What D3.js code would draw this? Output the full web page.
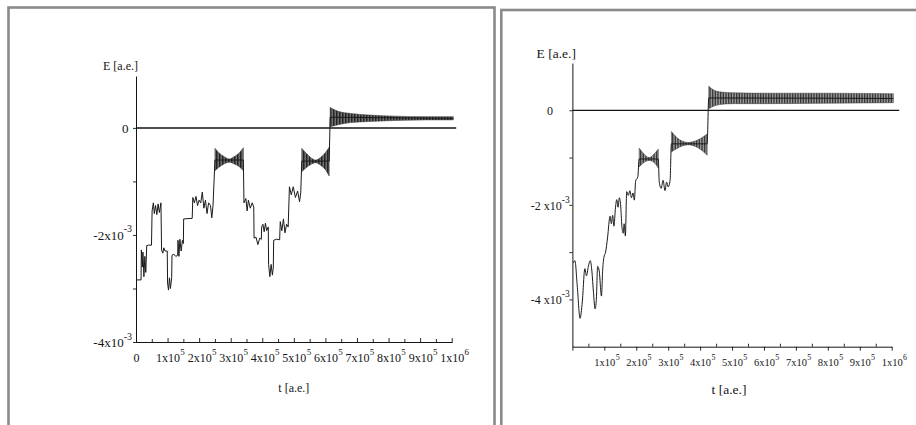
<!DOCTYPE html>
<html><head><meta charset="utf-8">
<script src="https://cdn.jsdelivr.net/npm/d3@7"></script>
<style>
body{margin:0;background:#fff;}
svg{display:block;}
text{font-family:"Liberation Serif","Times New Roman",serif;fill:#151515;}
</style>
</head><body>
<svg id="c" width="916" height="425"></svg>
<script>
// Units: t in 1e5 a.e., E in 1e-3 a.e.
const leftTrace = [[0,-2.84],[0.16,-2.84],[0.17,-2.28],[0.20,-2.60],[0.22,-2.32],[0.25,-2.78],[0.28,-2.40],[0.31,-2.70],[0.34,-2.20],[0.40,-2.19],[0.49,-2.19],
[0.51,-1.55],[0.55,-1.40],[0.58,-1.60],[0.62,-1.45],[0.66,-1.62],[0.70,-1.42],[0.74,-1.58],[0.79,-1.40],
[0.81,-2.28],[0.85,-2.34],[0.88,-2.24],[0.92,-2.30],[0.99,-2.30],[1.00,-2.90],[1.03,-3.03],[1.06,-2.80],[1.09,-3.00],[1.13,-2.80],
[1.14,-2.38],[1.20,-2.36],[1.26,-2.40],[1.32,-2.38],[1.33,-2.10],[1.36,-2.40],[1.39,-2.08],[1.43,-2.30],[1.47,-2.10],[1.50,-2.16],
[1.51,-1.70],[1.78,-1.69],[1.80,-1.30],[1.85,-1.40],[1.90,-1.28],[1.95,-1.45],[2.00,-1.35],[2.05,-1.40],[2.10,-1.20],[2.15,-1.50],[2.20,-1.35],[2.25,-1.60],[2.30,-1.40],[2.36,-1.45],[2.40,-1.68],[2.44,-1.45],
[2.50,-0.60],[3.40,-0.60],
[3.42,-1.40],[3.48,-1.32],[3.52,-1.55],[3.56,-1.35],[3.62,-1.50],[3.68,-1.40],[3.73,-1.48],
[3.74,-2.06],[3.80,-2.04],[3.86,-2.18],[3.92,-2.06],[3.97,-2.08],[3.98,-1.85],[4.02,-1.80],[4.06,-1.94],[4.10,-1.78],[4.14,-1.92],[4.19,-1.85],
[4.20,-2.55],[4.24,-2.78],[4.28,-2.55],[4.32,-2.75],[4.35,-2.60],[4.36,-2.10],[4.45,-2.08],[4.55,-2.09],
[4.57,-1.75],[4.62,-1.92],[4.67,-1.70],[4.72,-1.96],[4.77,-1.80],[4.82,-1.85],
[4.86,-1.10],[4.92,-1.25],[4.98,-1.10],[5.05,-1.30],[5.12,-1.18],[5.18,-1.38],[5.22,-1.20],
[5.25,-0.62],[6.12,-0.62],[6.15,0.20],[10.05,0.18]];

const leftBand1T  = [2.50, 2.62, 2.80, 2.95, 3.10, 3.28, 3.40];
const leftBand1Hi = [-0.38,-0.46,-0.54,-0.58,-0.54,-0.46,-0.37];
const leftBand1Lo = [-0.80,-0.74,-0.67,-0.64,-0.67,-0.73,-0.80];
const leftBand2T  = [5.25, 5.40, 5.55, 5.70, 5.85, 6.00, 6.12];
const leftBand2Hi = [-0.38,-0.48,-0.56,-0.60,-0.55,-0.46,-0.36];
const leftBand2Lo = [-0.82,-0.74,-0.68,-0.65,-0.70,-0.78,-0.90];
const leftBand3T  = [6.15, 6.40, 6.80, 7.40, 8.20, 9.20, 10.05];
const leftBand3Hi = [0.38, 0.31, 0.27, 0.24, 0.22, 0.21, 0.21];
const leftBand3Lo = [0.02, 0.06, 0.10, 0.12, 0.14, 0.15, 0.15];

const rightTrace = [[0.03,-3.23],[0.08,-3.18],[0.15,-3.70],[0.24,-4.40],[0.31,-4.05],[0.39,-3.35],[0.44,-3.50],[0.50,-3.30],[0.56,-3.18],[0.61,-3.40],[0.66,-3.85],[0.71,-4.20],[0.75,-4.00],[0.79,-3.30],[0.84,-3.40],[0.91,-3.93],[0.95,-3.35],[0.99,-3.10],[1.04,-3.00],[1.10,-2.70],
[1.18,-2.24],[1.22,-2.40],[1.26,-2.22],[1.30,-2.45],[1.35,-2.05],[1.39,-1.89],[1.43,-2.05],[1.47,-1.85],[1.51,-2.00],[1.55,-2.45],[1.59,-2.60],[1.62,-2.40],[1.66,-2.66],
[1.70,-1.72],[1.75,-1.80],[1.80,-1.70],[1.85,-1.85],[1.90,-1.75],[1.94,-1.90],[1.98,-1.50],[2.05,-1.40],
[2.09,-1.03],[2.69,-1.03],[2.72,-1.52],[2.78,-1.65],[2.84,-1.48],[2.90,-1.70],[2.95,-1.52],[3.00,-1.62],[3.06,-1.48],
[3.10,-0.71],[4.22,-0.71],[4.27,0.26],[10.05,0.25]];

const rightBand1T  = [2.09, 2.25, 2.40, 2.55, 2.69];
const rightBand1Hi = [-0.80,-0.93,-1.00,-0.93,-0.82];
const rightBand1Lo = [-1.20,-1.10,-1.06,-1.10,-1.22];
const rightBand2T  = [3.10, 3.35, 3.63, 3.95, 4.22];
const rightBand2Hi = [-0.45,-0.62,-0.68,-0.62,-0.50];
const rightBand2Lo = [-0.88,-0.78,-0.73,-0.80,-0.95];
const rightBand3T  = [4.27, 4.40, 4.60, 5.00, 6.00, 8.00, 10.05];
const rightBand3Hi = [0.51, 0.44, 0.39, 0.37, 0.36, 0.36, 0.35];
const rightBand3Lo = [0.03, 0.08, 0.12, 0.14, 0.14, 0.15, 0.16];

const xTickValues = d3.range(0, 10.01, 0.5);
const leftXLabelVals  = [0,1,2,3,4,5,6,7,8,9,10];
const leftXLabelBase  = ["0","1x10","2x10","3x10","4x10","5x10","6x10","7x10","8x10","9x10","1x10"];
const leftXLabelSup   = ["","5","5","5","5","5","5","5","5","5","6"];
const rightXLabelVals = [1,2,3,4,5,6,7,8,9,10];
const rightXLabelBase = ["1x10","2x10","3x10","4x10","5x10","6x10","7x10","8x10","9x10","1x10"];
const rightXLabelSup  = ["5","5","5","5","5","5","5","5","5","6"];
const leftYTicks  = [0,-1,-2,-3,-4];
const rightYTicks = [0,-1,-2,-3,-4];
const leftYLabelVals  = [0,-2,-4];
const leftYLabelBase  = ["0","-2x10","-4x10"];
const leftYLabelSup   = ["","-3","-3"];
const rightYLabelVals = [0,-2,-4];
const rightYLabelBase = ["0","-2 x10","-4 x10"];
const rightYLabelSup  = ["","-3","-3"];
const yTitle = "E [a.e.]";
const xTitle = "t [a.e.]";

const svg = d3.select("#c");
const defs = svg.append("defs");
function hatch(id, w, color, lw, bg){
  const p = defs.append("pattern").attr("id", id).attr("patternUnits","userSpaceOnUse")
    .attr("width", w).attr("height", 8);
  p.append("rect").attr("width", w).attr("height", 8).attr("fill", bg);
  p.append("rect").attr("x",0).attr("y",0).attr("width", lw).attr("height", 8).attr("fill", color);
}
hatch("hL", 1.5, "#111", 0.8, "#8c8c8c");
hatch("hR", 1.6, "#2a2a2a", 0.8, "#a8a8a8");

function panel(o){
  const x = d3.scaleLinear().domain([0,10]).range(o.xRange);
  const y = d3.scaleLinear().domain(o.yDomain).range(o.yRange);
  const g = svg.append("g");
  g.append("rect").attr("x", o.frame[0]).attr("y", o.frame[1]).attr("width", o.frame[2]).attr("height", o.frame[3])
    .attr("fill","none").attr("stroke","#8a8a8a").attr("stroke-width",2.6);

  // zero line
  g.append("line").attr("x1", x(0)).attr("x2", x.range()[1] + o.zeroExt)
    .attr("y1", y(0)).attr("y2", y(0)).attr("stroke","#151515").attr("stroke-width", o.zeroW);

  // x axis
  const gx = g.append("g").attr("transform", `translate(0,${y(o.yDomain[0])})`)
    .call(d3.axisBottom(x).tickValues(xTickValues).tickSizeOuter(0).tickFormat(""));
  gx.select(".domain").attr("stroke","#151515").attr("stroke-width",1);
  gx.selectAll(".tick line").attr("stroke","#151515").attr("stroke-width",0.9)
    .attr("y1", d => Number.isInteger(d) ? o.xMajT[0] : o.xMinT[0])
    .attr("y2", d => Number.isInteger(d) ? o.xMajT[1] : o.xMinT[1]);
  gx.selectAll(".tick").each(function(d){
    const i = o.xVals.indexOf(d);
    if (i < 0) return;
    const t = d3.select(this).append("text").attr("y", o.xLabDy).attr("text-anchor","middle")
      .attr("font-size", o.xFs).attr("fill","#151515").text(o.xBase[i]);
    if (o.xSup[i]) {
      const sp = t.append("tspan").attr("dy", -o.xSupRaise).attr("dx", 0.3).attr("font-size", o.xSupFs).text(o.xSup[i]);
      const sw = sp.node().getComputedTextLength() + 0.3;
      t.attr("x", sw / 2);
    }
  });

  // y axis
  const gy = g.append("g").attr("transform", `translate(${x(0)},0)`)
    .call(d3.axisLeft(y).tickValues(o.yTicks).tickSize(3).tickSizeOuter(0).tickFormat(""));
  gy.select(".domain").attr("stroke","#151515").attr("stroke-width",1);
  gy.selectAll(".tick line").attr("stroke","#151515").attr("stroke-width",0.9);
  gy.selectAll(".tick").each(function(d){
    const i = o.yVals.indexOf(d);
    if (i < 0) return;
    const sup = o.ySup[i];
    const t = d3.select(this).append("text").attr("x", sup ? o.yLabX : o.yZeroX).attr("y", o.yLabDy)
      .attr("text-anchor","end").attr("font-size", o.yFs).attr("fill","#151515").text(o.yBase[i]);
    if (sup) t.append("tspan").attr("dy", -o.ySupRaise).attr("font-size", o.ySupFs).text(sup);
  });

  // titles
  g.append("text").attr("x", x(0) + o.yTitleDx).attr("y", o.yTitleY).attr("text-anchor","end")
    .attr("font-size", o.titleFs).text(yTitle);
  g.append("text").attr("x", (x.range()[0] + x.range()[1]) / 2 + o.xTitleDx).attr("y", o.xTitleY)
    .attr("text-anchor","middle").attr("font-size", o.titleFs).text(xTitle);

  // oscillation bands
  const area = d3.area().x(d => x(d[0])).y0(d => y(d[1])).y1(d => y(d[2])).curve(d3.curveMonotoneX);
  o.bands.forEach(b => {
    const pts = d3.zip(b[0], b[2], b[1]);
    g.append("path").attr("d", area(pts)).attr("fill", `url(#${o.hatch})`)
      .attr("stroke","#333").attr("stroke-width",0.5);
  });

  // trace
  const line = d3.line().x(d => x(d[0])).y(d => y(d[1])).curve(o.curve);
  g.append("path").attr("d", line(o.trace)).attr("fill","none")
    .attr("stroke","#1a1a1a").attr("stroke-width",1).attr("stroke-linejoin","round");
}

panel({
  frame:[8.5, 7.5, 486, 440],
  xRange:[136, 451.7], yDomain:[-4, 0.97], yRange:[342, 76],
  zeroExt:4.5, zeroW:1.5,
  xMajT:[-4, 1], xMinT:[-3, 1],
  xVals:leftXLabelVals, xBase:leftXLabelBase, xSup:leftXLabelSup,
  xLabDy:20, xSupRaise:7, xFs:12, xSupFs:9,
  yTicks:leftYTicks, yVals:leftYLabelVals, yBase:leftYLabelBase, ySup:leftYLabelSup,
  yLabX:-4, yZeroX:-7.5, yLabDy:4.5, yFs:13, ySupFs:10, ySupRaise:7.5,
  yTitleDx:2, yTitleY:69.5, xTitleDx:0, xTitleY:392, titleFs:12,
  bands:[[leftBand1T,leftBand1Hi,leftBand1Lo],[leftBand2T,leftBand2Hi,leftBand2Lo],[leftBand3T,leftBand3Hi,leftBand3Lo]],
  hatch:"hL", trace:leftTrace, curve:d3.curveLinear
});

panel({
  frame:[501.3, 10, 440, 440],
  xRange:[572.4, 891.7], yDomain:[-5, 1.0], yRange:[346.7, 63],
  zeroExt:7.5, zeroW:1.2,
  xMajT:[0, 4], xMinT:[-3, 0],
  xVals:rightXLabelVals, xBase:rightXLabelBase, xSup:rightXLabelSup,
  xLabDy:19.5, xSupRaise:6.5, xFs:10.5, xSupFs:8,
  yTicks:rightYTicks, yVals:rightYLabelVals, yBase:rightYLabelBase, ySup:rightYLabelSup,
  yLabX:-2.7, yZeroX:-19.5, yLabDy:4.5, yFs:12, ySupFs:9.5, ySupRaise:7,
  yTitleDx:3.5, yTitleY:57.5, xTitleDx:-3, xTitleY:394, titleFs:13.5,
  bands:[[rightBand1T,rightBand1Hi,rightBand1Lo],[rightBand2T,rightBand2Hi,rightBand2Lo],[rightBand3T,rightBand3Hi,rightBand3Lo]],
  hatch:"hR", trace:rightTrace, curve:d3.curveMonotoneX
});
</script>
</body></html>
